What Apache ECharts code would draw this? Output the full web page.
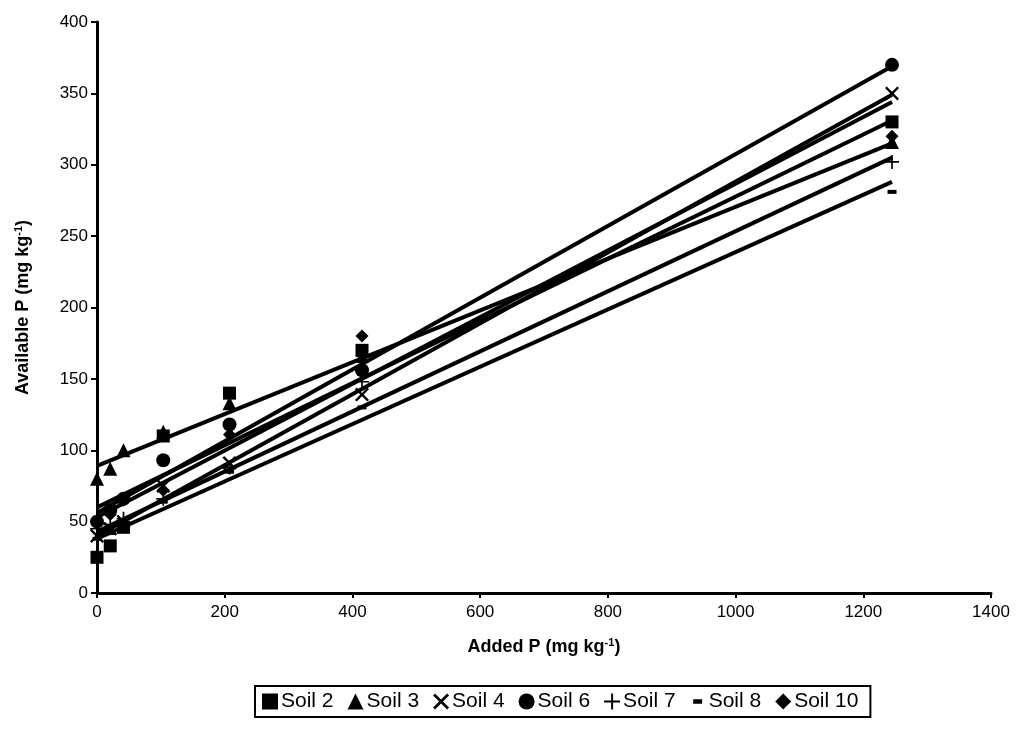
<!DOCTYPE html>
<html>
<head>
<meta charset="utf-8">
<script src="https://cdn.jsdelivr.net/npm/echarts@6/dist/echarts.min.js"></script>
<style>html,body{margin:0;padding:0;background:#fff}#c{width:1020px;height:735px}</style>
</head>
<body>
<div id="c"></div>
<script>
// Added P (mg kg-1)
const addedP = [0, 20.75, 41.5, 103.75, 207.5, 415, 1245];
const soilNames = ['Soil 2', 'Soil 3', 'Soil 4', 'Soil 6', 'Soil 7', 'Soil 8', 'Soil 10'];
// Available P (mg kg-1)
const soil2  = [25, 33, 46, 110, 140, 170, 330];
const soil3  = [80, 87, 100, 113, 133, 166, 316];
const soil4  = [40, 45, 50, 75, 91, 139, 350];
const soil6  = [50, 58, 66, 93, 118, 156, 370];
const soil7  = [45, 48, 52, 66, 88, 148, 302];
const soil8  = [38, 42, 48, 64, 85, 130, 281];
const soil10 = [50, 55, 65, 72, 111, 180, 320];
// Linear trend lines: value at first and last added P
const trendStart = [53, 89, 40, 56, 43, 38, 60];
const trendEnd   = [344, 315, 349, 369, 305, 288, 331];
const xTicks = [0, 200, 400, 600, 800, 1000, 1200, 1400];
const yTicks = [0, 50, 100, 150, 200, 250, 300, 350, 400];

const soilData = [soil2, soil3, soil4, soil6, soil7, soil8, soil10];
const symbols = [
  'rect',
  'triangle',
  'path://M0,1.2 L1.2,0 L5,3.8 L8.8,0 L10,1.2 L6.2,5 L10,8.8 L8.8,10 L5,6.2 L1.2,10 L0,8.8 L3.8,5 Z',
  'circle',
  'path://M4.4,0 H5.6 V4.4 H10 V5.6 H5.6 V10 H4.4 V5.6 H0 V4.4 H4.4 Z',
  'path://M0,0 H10 V4 H0 Z',
  'diamond'
];
const sizes = [13, 14, 14, 14, 14, [9, 4], 13];
const legendIcons = symbols.slice();
legendIcons[5] = 'path://M0,0 L0.01,0 Z M10,10 L9.99,10 Z M2.2,3.6 H7.8 V6.4 H2.2 Z';

const FONT = '"Liberation Sans", Arial, sans-serif';
const series = [];
soilNames.forEach((n, i) => {
  series.push({
    name: n + ' trend',
    type: 'line',
    data: [[addedP[0], trendStart[i]], [addedP[addedP.length - 1], trendEnd[i]]],
    showSymbol: false,
    symbol: 'none',
    lineStyle: { color: '#000', width: 4 },
    silent: true,
    z: 2
  });
});
soilNames.forEach((n, i) => {
  series.push({
    name: n,
    type: 'scatter',
    data: addedP.map((x, j) => [x, soilData[i][j]]),
    symbol: symbols[i],
    symbolSize: sizes[i],
    itemStyle: { color: '#000', opacity: 1 },
    z: 3
  });
});

const richName = {
  b: { fontSize: 18, fontWeight: 'bold', color: '#000', fontFamily: FONT },
  s: { fontSize: 11, fontWeight: 'bold', color: '#000', fontFamily: FONT, verticalAlign: 'top', padding: [0, 0, 9, 0] }
};

const chart = echarts.init(document.getElementById('c'), null, { renderer: 'canvas' });
chart.setOption({
  animation: false,
  backgroundColor: '#fff',
  textStyle: { fontFamily: FONT },
  grid: { left: 97, right: 29, top: 22, bottom: 142 },
  xAxis: {
    type: 'value',
    min: xTicks[0], max: xTicks[xTicks.length - 1], interval: 200,
    splitLine: { show: false },
    axisLine: { lineStyle: { color: '#000', width: 3 } },
    axisTick: { show: true, length: 5, lineStyle: { color: '#000', width: 2 } },
    axisLabel: { color: '#000', fontSize: 17, margin: 11, fontFamily: FONT, formatter: v => String(v) },
    name: '{b|Added P (mg kg}{s|-1}{b|)}',
    nameLocation: 'middle',
    nameGap: 44,
    nameTextStyle: { rich: richName }
  },
  yAxis: {
    type: 'value',
    min: yTicks[0], max: yTicks[yTicks.length - 1], interval: 50,
    splitLine: { show: false },
    axisLine: { show: true, lineStyle: { color: '#000', width: 3 } },
    axisTick: { show: true, length: 6, lineStyle: { color: '#000', width: 2 } },
    axisLabel: { color: '#000', fontSize: 17, margin: 9, fontFamily: FONT },
    name: '{b|Available P (mg kg}{s|-1}{b|)}',
    nameLocation: 'middle',
    nameGap: 64,
    nameTextStyle: { rich: richName }
  },
  legend: {
    data: soilNames.map((n, i) => ({ name: n, icon: legendIcons[i] })),
    left: 255,
    top: 686,
    padding: [5, 12, 5, 7],
    itemGap: 14,
    itemWidth: 16,
    itemHeight: 16,
    borderColor: '#000',
    borderWidth: 2,
    borderRadius: 0,
    textStyle: { color: '#000', fontSize: 21, fontFamily: FONT, padding: [0, 0, 0, -2] },
    itemStyle: { color: '#000' }
  },
  series: series
});
</script>
</body>
</html>
